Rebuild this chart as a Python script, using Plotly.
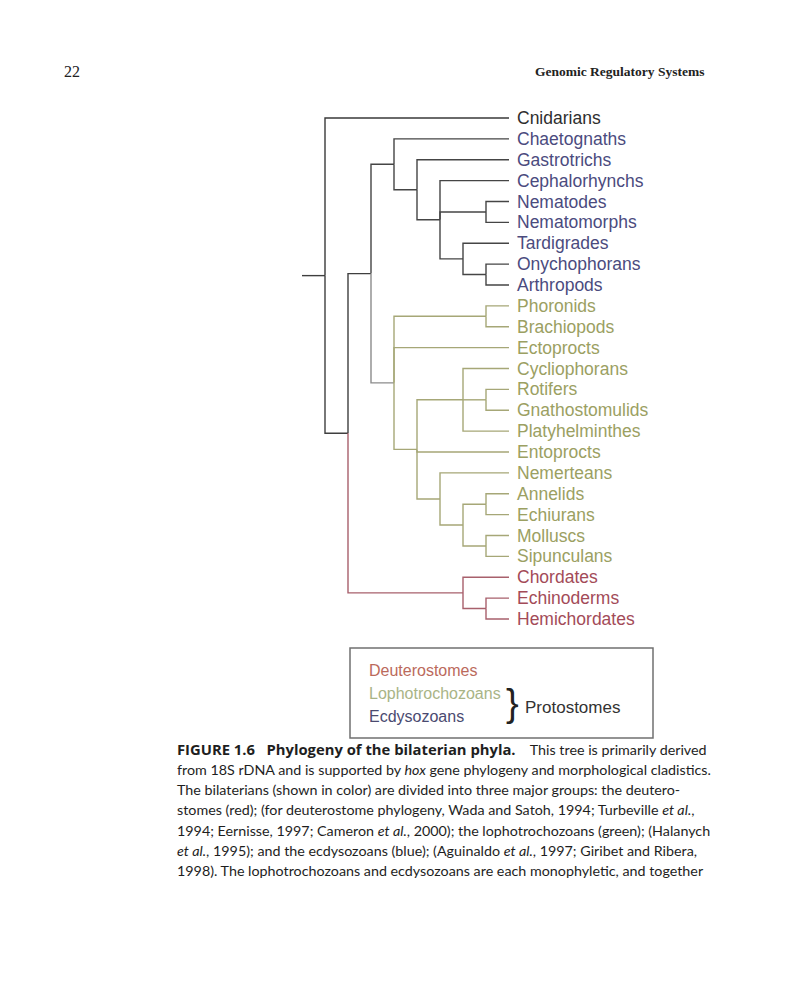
import plotly.graph_objects as go

# the page body adds an 8px margin, so the figure is drawn 8px smaller each way
OFF = 8
W, H = 800 - 2 * OFF, 982 - 2 * OFF

# leaves, top to bottom
leaves = ["Cnidarians", "Chaetognaths", "Gastrotrichs", "Cephalorhynchs", "Nematodes",
          "Nematomorphs", "Tardigrades", "Onychophorans", "Arthropods", "Phoronids",
          "Brachiopods", "Ectoprocts", "Cycliophorans", "Rotifers", "Gnathostomulids",
          "Platyhelminthes", "Entoprocts", "Nemerteans", "Annelids", "Echiurans",
          "Molluscs", "Sipunculans", "Chordates", "Echinoderms", "Hemichordates"]
leaf_group = ["Outgroup"] + ["Ecdysozoa"] * 8 + ["Lophotrochozoa"] * 13 + ["Deuterostomia"] * 3

# internal nodes: depth level (leaves sit at level 8) and children
node_names = ["Root", "Bilateria", "Protostomia", "Ecdysozoa", "E1", "E2", "Nematoida",
              "Panarthropoda", "OnychArthro", "Lophotrochozoa", "Brachiozoa", "L1",
              "Cyclio", "RotGna", "Trochozoa", "Eutrochozoa", "AnnEchi", "MollSip",
              "Deuterostomia", "Ambulacraria"]
node_levels = [0, 1, 2, 3, 4, 5, 7, 6, 7, 3, 7, 4, 6, 7, 5, 6, 7, 7, 6, 7]
node_children = [
    ["Cnidarians", "Bilateria"],
    ["Protostomia", "Deuterostomia"],
    ["Ecdysozoa", "Lophotrochozoa"],
    ["Chaetognaths", "E1"],
    ["Gastrotrichs", "E2"],
    ["Cephalorhynchs", "Nematoida", "Panarthropoda"],
    ["Nematodes", "Nematomorphs"],
    ["Tardigrades", "OnychArthro"],
    ["Onychophorans", "Arthropods"],
    ["Brachiozoa", "Ectoprocts", "L1"],
    ["Phoronids", "Brachiopods"],
    ["Cyclio", "Entoprocts", "Trochozoa"],
    ["Cycliophorans", "RotGna", "Platyhelminthes"],
    ["Rotifers", "Gnathostomulids"],
    ["Nemerteans", "Eutrochozoa"],
    ["AnnEchi", "MollSip"],
    ["Annelids", "Echiurans"],
    ["Molluscs", "Sipunculans"],
    ["Chordates", "Ambulacraria"],
    ["Echinoderms", "Hemichordates"],
]
# colour group of the branch leading into each node
node_branch = ["Stem", "Stem", "Stem", "Ecdysozoa", "Ecdysozoa", "Ecdysozoa", "Ecdysozoa",
               "Ecdysozoa", "Ecdysozoa", "LophoStem", "Lophotrochozoa", "Lophotrochozoa",
               "Lophotrochozoa", "Lophotrochozoa", "Lophotrochozoa", "Lophotrochozoa",
               "Lophotrochozoa", "Lophotrochozoa", "Deuterostomia", "Deuterostomia"]

legend_labels = ["Deuterostomes", "Lophotrochozoans", "Ecdysozoans"]

BOLD = '<span style="font-family:Open Sans;font-weight:bold;font-size:14.8px">'
caption_lines = [
    BOLD + "FIGURE 1.6   Phylogeny of the bilaterian phyla.</span>    This tree is primarily derived",
    "from 18S rDNA and is supported by <i>hox</i> gene phylogeny and morphological cladistics.",
    "The bilaterians (shown in color) are divided into three major groups: the deutero-",
    "stomes (red); (for deuterostome phylogeny, Wada and Satoh, 1994; Turbeville <i>et al.</i>,",
    "1994; Eernisse, 1997; Cameron <i>et al.</i>, 2000); the lophotrochozoans (green); (Halanych",
    "<i>et al.</i>, 1995); and the ecdysozoans (blue); (Aguinaldo <i>et al.</i>, 1997; Giribet and Ribera,",
    "1998). The lophotrochozoans and ecdysozoans are each monophyletic, and together",
]

line_colors = {"Outgroup": "#3a3a3a", "Stem": "#3f3f3f", "Ecdysozoa": "#454545",
               "LophoStem": "#8c8c8c", "Lophotrochozoa": "#a6a777",
               "Deuterostomia": "#a8606c"}
text_colors = {"Outgroup": "#2e2e2e", "Ecdysozoa": "#4b4b7e",
               "Lophotrochozoa": "#9ba062", "Deuterostomia": "#a34b58"}
legend_colors = ["#bb6a5c", "#a9b486", "#4a4a70"]

LEAF_LEVEL = 8


def px(x):  # page pixel -> paper x
    return (x - OFF) / W


def py(y):  # page pixel -> paper y
    return 1 - (y - OFF) / H


#######################################
# Tree layout
#######################################
children = dict(zip(node_names, node_children))
levels = dict(zip(node_names, node_levels))
branch = dict(zip(node_names, node_branch))
for name, grp in zip(leaves, leaf_group):
    branch[name] = grp

pos = {}


def place(name):
    if name in leaves:
        pos[name] = (LEAF_LEVEL, leaves.index(name))
    else:
        ys = [place(c)[1] for c in children[name]]
        pos[name] = (levels[name], (ys[0] + ys[-1]) / 2)
    return pos[name]


place("Root")

segs = {k: ([], []) for k in line_colors}
# root stub
rx, ry = pos["Root"]
segs["Stem"][0].extend([rx - 1, rx, None])
segs["Stem"][1].extend([ry, ry, None])
for name in node_names:
    nx, ny = pos[name]
    for c in children[name]:
        cx, cy = pos[c]
        xs, ys = segs[branch[c]]
        xs.extend([nx, nx, cx, None])
        ys.extend([ny, cy, cy, None])

fig = go.Figure()
for grp, (xs, ys) in segs.items():
    if xs:
        fig.add_trace(go.Scatter(x=xs, y=ys, mode="lines",
                                 line=dict(color=line_colors[grp], width=1.4),
                                 hoverinfo="skip", showlegend=False))

# tree axes: level 0 at x=325px, 23px per level; leaf 0 at y=118px, 20.875px per leaf
dx, x0 = 23.0, 325 - OFF
dy, y0 = 20.875, 118 - OFF
fig.update_xaxes(range=[-x0 / dx, (W - x0) / dx], visible=False, domain=[0, 1])
fig.update_yaxes(range=[(H - y0) / dy, -y0 / dy], visible=False, domain=[0, 1])

ann = []
# leaf labels, placed in tree data coordinates
for i, (lab, grp) in enumerate(zip(leaves, leaf_group)):
    ann.append(dict(x=LEAF_LEVEL, y=i, xref="x", yref="y", text=lab,
                    xanchor="left", yanchor="middle", xshift=6, showarrow=False,
                    font=dict(family="Liberation Sans, Arial", size=17.5,
                              color=text_colors[grp])))

page = []
# running header
page.append(dict(x=px(62), y=py(72), text="22", xanchor="left",
                 font=dict(family="Liberation Serif", size=16, color="#222")))
page.append(dict(x=px(706), y=py(72), text="<b>Genomic Regulatory Systems</b>",
                 xanchor="right",
                 font=dict(family="Liberation Serif", size=13.5, color="#222")))

# legend box contents
for i, (lab, col) in enumerate(zip(legend_labels, legend_colors)):
    page.append(dict(x=px(367), y=py(670 + i * 23), text=lab, xanchor="left",
                     font=dict(family="Liberation Sans", size=16, color=col)))
page.append(dict(x=px(512), y=py(703), text="}", xanchor="center",
                 font=dict(family="Liberation Sans", size=38, color="#222")))
page.append(dict(x=px(523), y=py(707), text="Protostomes", xanchor="left",
                 font=dict(family="Liberation Sans", size=17, color="#333")))

# caption
for i, line in enumerate(caption_lines):
    page.append(dict(x=px(175), y=py(749 + i * 20.3), text=line, xanchor="left",
                     font=dict(family="Lato", size=14.3, color="#1e1e1e")))

for a in page:
    a.update(xref="paper", yref="paper", yanchor="middle", showarrow=False)

fig.update_layout(
    width=W, height=H, margin=dict(l=0, r=0, t=0, b=0),
    paper_bgcolor="white", plot_bgcolor="white",
    annotations=ann + page,
    shapes=[dict(type="rect", xref="paper", yref="paper",
                 x0=px(350), x1=px(653), y0=py(738), y1=py(648),
                 line=dict(color="#707070", width=1.5))],
)

fig.write_html("out.html")
